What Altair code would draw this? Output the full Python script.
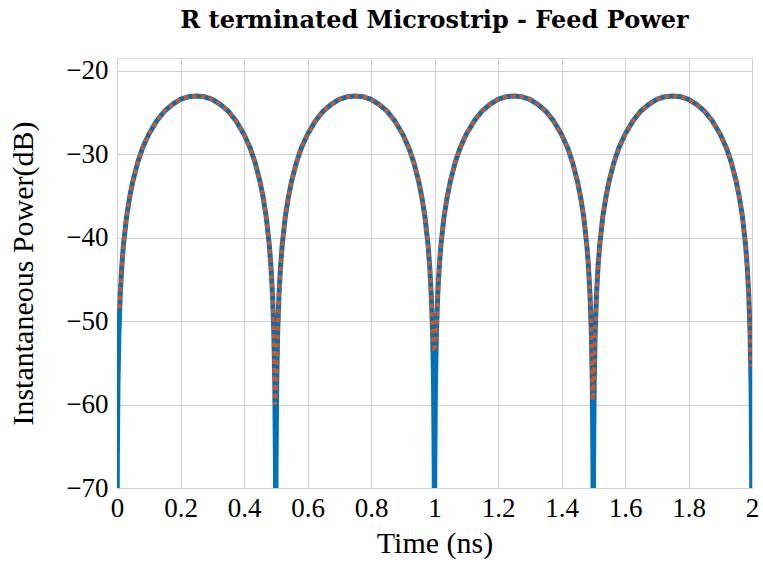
import altair as alt
import pandas as pd

# ---- data ----
TIME_SOLID = [
    0, 0.001, 0.003, 0.006, 0.01, 0.015, 0.02, 0.03, 0.04, 0.05, 0.065, 0.08, 0.1, 0.125, 0.15, 0.175, 0.2, 0.225,
    0.25, 0.275, 0.3, 0.325, 0.35, 0.375, 0.4, 0.42, 0.435, 0.45, 0.46, 0.47, 0.48, 0.485, 0.49, 0.494, 0.497, 0.499,
    0.5, 0.501, 0.503, 0.506, 0.51, 0.515, 0.52, 0.53, 0.54, 0.55, 0.565, 0.58, 0.6, 0.625, 0.65, 0.675, 0.7, 0.725,
    0.75, 0.775, 0.8, 0.825, 0.85, 0.875, 0.9, 0.92, 0.935, 0.95, 0.96, 0.97, 0.98, 0.985, 0.99, 0.994, 0.997, 0.999,
    1.0, 1.001, 1.003, 1.006, 1.01, 1.015, 1.02, 1.03, 1.04, 1.05, 1.065, 1.08, 1.1, 1.125, 1.15, 1.175, 1.2, 1.225,
    1.25, 1.275, 1.3, 1.325, 1.35, 1.375, 1.4, 1.42, 1.435, 1.45, 1.46, 1.47, 1.48, 1.485, 1.49, 1.494, 1.497, 1.499,
    1.5, 1.501, 1.503, 1.506, 1.51, 1.515, 1.52, 1.53, 1.54, 1.55, 1.565, 1.58, 1.6, 1.625, 1.65, 1.675, 1.7, 1.725,
    1.75, 1.775, 1.8, 1.825, 1.85, 1.875, 1.9, 1.92, 1.935, 1.95, 1.96, 1.97, 1.98, 1.985, 1.99, 1.994, 1.997, 1.999,
    2.0,
]
POWER_SOLID = [
    -80, -67, -57.5, -51.5, -47, -43.5, -41, -37.5, -35.1, -33.2, -31, -29.3, -27.6, -26, -24.8, -24, -23.4, -23.1,
    -23, -23.1, -23.4, -24, -24.8, -26, -27.6, -29.3, -31, -33.2, -35.1, -37.5, -41, -43.5, -47, -51.5, -57.5, -67,
    -80, -67, -57.5, -51.5, -47, -43.5, -41, -37.5, -35.1, -33.2, -31, -29.3, -27.6, -26, -24.8, -24, -23.4, -23.1,
    -23, -23.1, -23.4, -24, -24.8, -26, -27.6, -29.3, -31, -33.2, -35.1, -37.5, -41, -43.5, -47, -51.5, -57.5, -67,
    -80, -67, -57.5, -51.5, -47, -43.5, -41, -37.5, -35.1, -33.2, -31, -29.3, -27.6, -26, -24.8, -24, -23.4, -23.1,
    -23, -23.1, -23.4, -24, -24.8, -26, -27.6, -29.3, -31, -33.2, -35.1, -37.5, -41, -43.5, -47, -51.5, -57.5, -67,
    -80, -67, -57.5, -51.5, -47, -43.5, -41, -37.5, -35.1, -33.2, -31, -29.3, -27.6, -26, -24.8, -24, -23.4, -23.1,
    -23, -23.1, -23.4, -24, -24.8, -26, -27.6, -29.3, -31, -33.2, -35.1, -37.5, -41, -43.5, -47, -51.5, -57.5, -67,
    -80,
]

TIME_DOTTED = [
    0.008, 0.01, 0.015, 0.02, 0.03, 0.04, 0.05, 0.065, 0.08, 0.1, 0.125, 0.15, 0.175, 0.2, 0.225,
    0.25, 0.275, 0.3, 0.325, 0.35, 0.375, 0.4, 0.42, 0.435, 0.45, 0.46, 0.47, 0.48, 0.485, 0.49, 0.494, 0.497, 0.4985,
    0.502, 0.506, 0.51, 0.515, 0.52, 0.53, 0.54, 0.55, 0.565, 0.58, 0.6, 0.625, 0.65, 0.675, 0.7, 0.725,
    0.75, 0.775, 0.8, 0.825, 0.85, 0.875, 0.9, 0.92, 0.935, 0.95, 0.96, 0.97, 0.98, 0.985, 0.99, 0.994, 0.9995,
    1.006, 1.01, 1.015, 1.02, 1.03, 1.04, 1.05, 1.065, 1.08, 1.1, 1.125, 1.15, 1.175, 1.2, 1.225,
    1.25, 1.275, 1.3, 1.325, 1.35, 1.375, 1.4, 1.42, 1.435, 1.45, 1.46, 1.47, 1.48, 1.485, 1.49, 1.494, 1.497, 1.4985,
    1.502, 1.506, 1.51, 1.515, 1.52, 1.53, 1.54, 1.55, 1.565, 1.58, 1.6, 1.625, 1.65, 1.675, 1.7, 1.725,
    1.75, 1.775, 1.8, 1.825, 1.85, 1.875, 1.9, 1.92, 1.935, 1.95, 1.96, 1.97, 1.98, 1.985, 1.99, 1.994, 1.9965,
]
POWER_DOTTED = [
    -48.5, -47, -43.5, -41, -37.5, -35.1, -33.2, -31, -29.3, -27.6, -26, -24.8, -24, -23.4, -23.1,
    -23, -23.1, -23.4, -24, -24.8, -26, -27.6, -29.3, -31, -33.2, -35.1, -37.5, -41, -43.5, -47, -51.5, -57.5, -60,
    -57, -51.5, -47, -43.5, -41, -37.5, -35.1, -33.2, -31, -29.3, -27.6, -26, -24.8, -24, -23.4, -23.1,
    -23, -23.1, -23.4, -24, -24.8, -26, -27.6, -29.3, -31, -33.2, -35.1, -37.5, -41, -43.5, -47, -51.5, -53.7,
    -51.5, -47, -43.5, -41, -37.5, -35.1, -33.2, -31, -29.3, -27.6, -26, -24.8, -24, -23.4, -23.1,
    -23, -23.1, -23.4, -24, -24.8, -26, -27.6, -29.3, -31, -33.2, -35.1, -37.5, -41, -43.5, -47, -51.5, -57.5, -59.5,
    -57, -51.5, -47, -43.5, -41, -37.5, -35.1, -33.2, -31, -29.3, -27.6, -26, -24.8, -24, -23.4, -23.1,
    -23, -23.1, -23.4, -24, -24.8, -26, -27.6, -29.3, -31, -33.2, -35.1, -37.5, -41, -43.5, -47, -51.5, -55.5,
]

X_TICKS = [0, 0.2, 0.4, 0.6, 0.8, 1.0, 1.2, 1.4, 1.6, 1.8, 2.0]
Y_TICKS = [-70, -60, -50, -40, -30, -20]

solid = pd.DataFrame({"t": TIME_SOLID, "p": POWER_SOLID})
dotted = pd.DataFrame({"t": TIME_DOTTED, "p": POWER_DOTTED})

FONT = "Liberation Serif"
MINUS = "replace(datum.label, '-', '\u2212')"

x_enc = alt.X(
    "t:Q",
    scale=alt.Scale(domain=[0, 2], nice=False, zero=False),
    axis=alt.Axis(
        title="Time (ns)", values=X_TICKS, format="~g", grid=True, ticks=False, domain=False,
        labelFontSize=27, titleFontSize=30, labelPadding=7, titlePadding=7,
        labelFont=FONT, titleFont=FONT, titleFontWeight="normal", labelColor="#000", titleColor="#000",
        gridColor="#d0d0d0", labelFlush=False,
    ),
)
y_enc = alt.Y(
    "p:Q",
    scale=alt.Scale(domain=[-70, -18.45], nice=False, zero=False),
    axis=alt.Axis(
        title="Instantaneous Power(dB)", values=Y_TICKS, format="d", labelExpr=MINUS,
        grid=True, ticks=False, domain=False,
        labelFontSize=27, titleFontSize=30, labelPadding=9, titlePadding=27,
        labelFont=FONT, titleFont=FONT, titleFontWeight="normal", labelColor="#000", titleColor="#000",
        gridColor="#d0d0d0", labelFlush=False,
    ),
)

line_solid = alt.Chart(solid).mark_line(color="#0072BD", strokeWidth=5, clip=True).encode(x=x_enc, y=y_enc)
line_dotted = alt.Chart(dotted).mark_line(
    color="#D95319", strokeWidth=4, strokeDash=[4.5, 4], clip=True
).encode(x=x_enc, y=y_enc)

chart = (
    alt.layer(line_solid, line_dotted)
    .properties(
        width=635,
        height=430,
        title=alt.TitleParams(
            "R terminated Microstrip - Feed Power", font="DejaVu Serif", fontSize=24, fontWeight="bold",
            color="#000", anchor="middle", offset=24,
        ),
        autosize=alt.AutoSizeParams(type="none"),
        padding={"left": 117, "top": 58, "right": 11, "bottom": 76},
    )
    .configure_view(stroke="#000", strokeWidth=1.2)
    .configure(background="white")
)

chart.save("out.html", embed_options={"renderer": "svg", "actions": False})
